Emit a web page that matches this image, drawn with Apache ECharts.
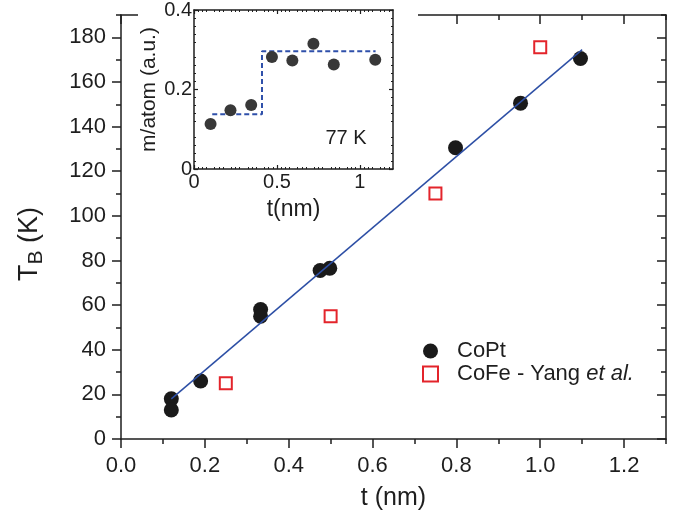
<!DOCTYPE html>
<html>
<head>
<meta charset="utf-8">
<script src="https://cdn.jsdelivr.net/npm/echarts@6/dist/echarts.min.js"></script>
<style>
  html, body { margin: 0; padding: 0; background: #fff; }
  #chart { width: 677px; height: 523px; }
</style>
</head>
<body>
<div id="chart"></div>
<script>
// main plot: blocking temperature vs thickness
var copT  = [0.12, 0.12, 0.19, 0.333, 0.333, 0.475, 0.498, 0.798, 0.953, 1.096];
var copTB = [18, 13, 26, 58, 55, 75.5, 76.5, 130.5, 150.5, 170.5];
var cofeT  = [0.25, 0.5, 0.75, 1.0];
var cofeTB = [25, 55, 110, 175.5];
var fitT  = [0.12, 1.1];
var fitTB = [18, 174.5];
var xMajor = [0, 0.2, 0.4, 0.6, 0.8, 1.0, 1.2];
var yMajor = [0, 20, 40, 60, 80, 100, 120, 140, 160, 180];

// inset: moment per atom at 77 K
var insetT = [0.1, 0.22, 0.345, 0.47, 0.593, 0.72, 0.843, 1.093];
var insetM = [0.113, 0.148, 0.161, 0.282, 0.273, 0.315, 0.263, 0.275];
var stepT = [0.11, 0.41, 0.41, 1.095];
var stepM = [0.1375, 0.1375, 0.296, 0.296];
var insetXMajor = [0, 0.5, 1];
var insetYMajor = [0, 0.2, 0.4];

function pairs(a, b) {
    return a.map(function (v, i) { return [v, b[i]]; });
}

;(function(){
    var chart = echarts.init(document.getElementById('chart'));
    var font = 'Liberation Sans, Arial, sans-serif';
    var ink = '#1e1e1e';
    var axLine = { show: true, onZero: false, lineStyle: { color: ink, width: 1.5 } };
    var noLine = { show: false, onZero: false };

    function mainX(pos, major, inside) {
        return {
            gridIndex: 0, type: 'value', position: pos,
            min: 0, max: 1.3, interval: 0.1,
            axisLine: major ? axLine : noLine,
            axisTick: major
                ? { inside: inside, length: 9, customValues: xMajor, lineStyle: { color: ink, width: 1.5 } }
                : { inside: inside, length: 5, lineStyle: { color: ink, width: 1.5 } },
            axisLabel: (major && pos === 'bottom')
                ? { customValues: xMajor, margin: 16, fontSize: 22, fontFamily: font, color: ink,
                    formatter: function (v) { return v.toFixed(1); } }
                : { show: false },
            splitLine: { show: false }
        };
    }
    function mainY(pos, major, inside) {
        return {
            gridIndex: 0, type: 'value', position: pos,
            min: 0, max: 190, interval: 10,
            axisLine: major ? axLine : noLine,
            axisTick: major
                ? { inside: inside, length: 9, customValues: yMajor, lineStyle: { color: ink, width: 1.5 } }
                : { inside: inside, length: 5, lineStyle: { color: ink, width: 1.5 } },
            axisLabel: (major && pos === 'left')
                ? { customValues: yMajor, margin: 15, fontSize: 22, fontFamily: font, color: ink }
                : { show: false },
            splitLine: { show: false }
        };
    }
    function insetX(pos) {
        return {
            gridIndex: 1, type: 'value', position: pos, z: 20,
            min: 0, max: 1.2, interval: 0.1,
            axisLine: axLine,
            axisTick: { inside: true, length: 4, customValues: insetXMajor, lineStyle: { color: ink, width: 1.2 } },
            minorTick: { show: true, splitNumber: 4, length: 2, lineStyle: { color: ink, width: 1 } },
            axisLabel: pos === 'bottom'
                ? { customValues: insetXMajor, margin: 3, fontSize: 20, fontFamily: font, color: ink }
                : { show: false },
            name: pos === 'bottom' ? 't(nm)' : '',
            nameLocation: 'middle', nameGap: 29,
            nameTextStyle: { fontSize: 23, fontFamily: font, color: ink },
            splitLine: { show: false }
        };
    }
    function insetY(pos) {
        return {
            gridIndex: 1, type: 'value', position: pos, z: 20,
            min: 0, max: 0.4, interval: 0.1,
            axisLine: axLine,
            axisTick: { inside: true, length: 4, customValues: insetYMajor, lineStyle: { color: ink, width: 1.2 } },
            minorTick: { show: true, splitNumber: 5, length: 2, lineStyle: { color: ink, width: 1 } },
            axisLabel: pos === 'left'
                ? { customValues: insetYMajor, margin: 2, fontSize: 20, fontFamily: font, color: ink }
                : { show: false },
            name: pos === 'left' ? 'm/atom (a.u.)' : '',
            nameLocation: 'middle', nameGap: 34,
            nameTextStyle: { fontSize: 21, fontFamily: font, color: ink },
            splitLine: { show: false }
        };
    }

    var mainXAxes = [mainX('bottom', true, false), mainX('bottom', false, false),
                     mainX('top', true, true), mainX('top', false, true)];
    mainXAxes[0].name = 't (nm)';
    mainXAxes[0].nameLocation = 'middle';
    mainXAxes[0].nameGap = 47;
    mainXAxes[0].nameTextStyle = { fontSize: 25, fontFamily: font, color: ink };

    var option = {
        animation: false,
        backgroundColor: '#fff',
        grid: [
            { left: 121, right: 11, top: 15, bottom: 84 },
            { left: 194, top: 9, width: 199, height: 160, z: 20 }
        ],
        xAxis: mainXAxes.concat([insetX('bottom'), insetX('top')]),
        yAxis: [mainY('left', true, false), mainY('left', false, false),
                mainY('right', true, true), mainY('right', false, true),
                insetY('left'), insetY('right')],
        legend: {
            orient: 'vertical',
            left: 417, top: 335,
            itemWidth: 15, itemHeight: 15, itemGap: 1,
            data: ['CoPt', 'CoFe'],
            formatter: function (name) {
                return name === 'CoPt' ? '{n|CoPt}' : '{n|CoFe - Yang }{i|et al.}';
            },
            textStyle: {
                fontSize: 22, fontFamily: font, color: ink, padding: [0, 0, 0, 14],
                rich: {
                    n: { fontSize: 22, fontFamily: font, color: ink },
                    i: { fontSize: 22, fontFamily: font, color: ink, fontStyle: 'italic' }
                }
            }
        },
        graphic: [
            // white backing of the inset hides the main top frame behind it
            { type: 'rect', z: 10, shape: { x: 138, y: 0, width: 280, height: 30 },
              style: { fill: '#fff' } },
            { type: 'text', z: 40, x: 346, y: 138,
              style: { text: '77 K', fontSize: 20, fontFamily: font, fill: ink,
                       align: 'center', verticalAlign: 'middle' } },
            { type: 'text', z: 40, x: 30, y: 244, rotation: Math.PI / 2,
              style: {
                  text: '{t|T}{s|B}{k| (K)}', align: 'center', verticalAlign: 'middle', fill: ink,
                  rich: {
                      t: { fontSize: 27, fontFamily: font, lineHeight: 34, fill: ink },
                      s: { fontSize: 21, fontFamily: font, lineHeight: 20, verticalAlign: 'bottom', fill: ink },
                      k: { fontSize: 27, fontFamily: font, lineHeight: 34, fill: ink }
                  }
              } }
        ],
        series: [
            {
                name: 'fit', type: 'line', xAxisIndex: 0, yAxisIndex: 0,
                data: pairs(fitT, fitTB), showSymbol: false,
                lineStyle: { color: '#2d4fa5', width: 1.5 }
            },
            {
                name: 'CoPt', type: 'scatter', xAxisIndex: 0, yAxisIndex: 0,
                data: pairs(copT, copTB), symbol: 'circle', symbolSize: 15,
                itemStyle: { color: '#1a1a1a', opacity: 1 }
            },
            {
                name: 'CoFe', type: 'scatter', xAxisIndex: 0, yAxisIndex: 0,
                data: pairs(cofeT, cofeTB), symbol: 'rect', symbolSize: 12,
                itemStyle: { color: '#fff', borderColor: '#e3242b', borderWidth: 2, opacity: 1 }
            },
            {
                name: 'step', type: 'line', xAxisIndex: 4, yAxisIndex: 4, z: 30,
                data: pairs(stepT, stepM), showSymbol: false,
                lineStyle: { color: '#2f50aa', width: 2, type: [5, 3] }
            },
            {
                name: 'moment', type: 'scatter', xAxisIndex: 4, yAxisIndex: 4, z: 31,
                data: pairs(insetT, insetM), symbol: 'circle', symbolSize: 12,
                itemStyle: { color: '#383838', opacity: 1 }
            }
        ]
    };

    chart.setOption(option);
})()
</script>
</body>
</html>
